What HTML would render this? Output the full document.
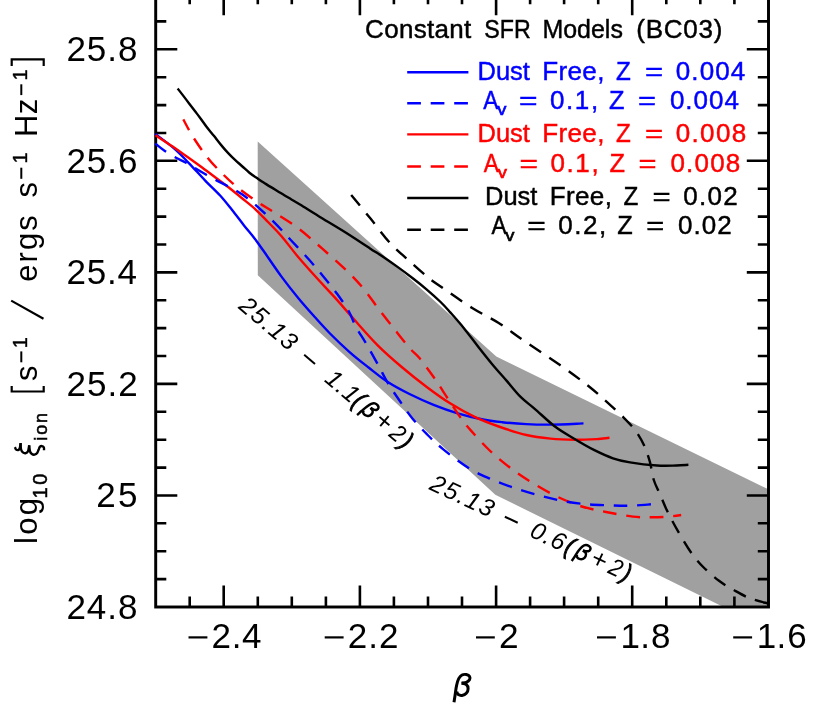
<!DOCTYPE html>
<html><head><meta charset="utf-8"><title>plot</title>
<style>html,body{margin:0;padding:0;background:#fff;}svg{display:block;will-change:transform;}text{font-family:"Liberation Sans",sans-serif;}</style>
</head><body>
<svg width="830" height="708" viewBox="0 0 830 708">
<rect width="830" height="708" fill="#fff"/>
<polygon fill="#a0a0a0" points="257.7,141.6 496.3,356.6 768.4,489.3 768.4,607.0 723.5,607.0 495.3,494.8 257.8,275.3"/>
<g stroke="#000" fill="none">
<rect x="155.7" y="-6.4" width="612.8" height="613.4" stroke-width="2.95"/>
<path d="M189.7,607.0 v-10.6 M189.7,-6.4 v10.6 M223.7,607.0 v-21.6 M223.7,-6.4 v21.6 M257.8,607.0 v-10.6 M257.8,-6.4 v10.6 M291.8,607.0 v-10.6 M291.8,-6.4 v10.6 M325.9,607.0 v-10.6 M325.9,-6.4 v10.6 M359.9,607.0 v-21.6 M359.9,-6.4 v21.6 M393.9,607.0 v-10.6 M393.9,-6.4 v10.6 M428.0,607.0 v-10.6 M428.0,-6.4 v10.6 M462.0,607.0 v-10.6 M462.0,-6.4 v10.6 M496.1,607.0 v-21.6 M496.1,-6.4 v21.6 M530.1,607.0 v-10.6 M530.1,-6.4 v10.6 M564.1,607.0 v-10.6 M564.1,-6.4 v10.6 M598.2,607.0 v-10.6 M598.2,-6.4 v10.6 M632.2,607.0 v-21.6 M632.2,-6.4 v21.6 M666.3,607.0 v-10.6 M666.3,-6.4 v10.6 M700.3,607.0 v-10.6 M700.3,-6.4 v10.6 M734.4,607.0 v-10.6 M734.4,-6.4 v10.6 M155.7,579.1 h10.6 M768.4,579.1 h-10.6 M155.7,551.2 h10.6 M768.4,551.2 h-10.6 M155.7,523.3 h10.6 M768.4,523.3 h-10.6 M155.7,495.5 h21.6 M768.4,495.5 h-21.6 M155.7,467.6 h10.6 M768.4,467.6 h-10.6 M155.7,439.7 h10.6 M768.4,439.7 h-10.6 M155.7,411.8 h10.6 M768.4,411.8 h-10.6 M155.7,383.9 h21.6 M768.4,383.9 h-21.6 M155.7,356.0 h10.6 M768.4,356.0 h-10.6 M155.7,328.1 h10.6 M768.4,328.1 h-10.6 M155.7,300.3 h10.6 M768.4,300.3 h-10.6 M155.7,272.4 h21.6 M768.4,272.4 h-21.6 M155.7,244.5 h10.6 M768.4,244.5 h-10.6 M155.7,216.6 h10.6 M768.4,216.6 h-10.6 M155.7,188.7 h10.6 M768.4,188.7 h-10.6 M155.7,160.8 h21.6 M768.4,160.8 h-21.6 M155.7,133.0 h10.6 M768.4,133.0 h-10.6 M155.7,105.1 h10.6 M768.4,105.1 h-10.6 M155.7,77.2 h10.6 M768.4,77.2 h-10.6 M155.7,49.3 h21.6 M768.4,49.3 h-21.6 M155.7,21.4 h10.6 M768.4,21.4 h-10.6" stroke-width="2.6"/>
</g>
<path d="M155.3,133.9 C158.4,136.3 168.4,143.5 174.0,148.3 C179.6,153.1 183.4,157.4 188.6,162.8 C193.8,168.2 200.2,175.4 205.4,180.8 C210.6,186.2 215.5,190.5 219.9,195.3 C224.3,200.1 227.9,204.8 231.9,209.8 C235.9,214.8 240.2,220.6 244.0,225.4 C247.8,230.2 251.4,234.2 254.8,238.7 C258.2,243.2 260.1,246.0 264.5,252.3 C268.9,258.6 275.7,268.8 281.3,276.4 C286.9,284.0 292.6,291.2 298.2,298.0 C303.8,304.8 309.8,311.5 315.0,317.3 C320.2,323.1 323.8,327.2 329.5,333.0 C335.2,338.8 342.8,346.1 349.3,351.8 C355.8,357.6 362.2,362.5 368.6,367.5 C375.0,372.5 381.0,377.6 387.8,382.0 C394.6,386.4 401.9,390.2 409.5,394.0 C417.1,397.8 425.6,401.6 433.6,404.8 C441.6,408.0 449.7,410.9 457.7,413.3 C465.7,415.7 474.4,417.8 481.8,419.3 C489.2,420.8 494.9,421.4 502.3,422.2 C509.7,423.0 518.4,423.7 526.4,424.1 C534.4,424.5 541.0,424.7 550.5,424.6 C560.0,424.5 578.0,423.6 583.5,423.4" fill="none" stroke="#0000ff" stroke-width="2.4"/>
<path d="M155.6,135.3 C158.4,137.2 167.9,143.4 172.6,146.6 C177.3,149.8 180.1,151.9 183.9,154.5 C187.7,157.1 191.4,159.7 195.2,162.4 C199.0,165.1 202.7,168.0 206.5,170.8 C210.3,173.6 214.0,176.5 217.8,179.3 C221.6,182.1 225.1,184.7 229.1,187.8 C233.1,191.0 237.6,194.6 242.0,198.2 C246.4,201.8 251.1,205.3 255.4,209.3 C259.7,213.3 263.7,217.6 268.0,222.0 C272.3,226.4 276.3,230.2 281.3,236.0 C286.3,241.8 292.2,249.9 298.2,257.0 C304.2,264.1 311.5,272.2 317.5,278.8 C323.5,285.4 328.2,290.1 334.3,296.9 C340.4,303.6 346.7,311.1 354.0,319.3 C361.3,327.5 370.1,337.8 378.2,345.8 C386.2,353.8 394.3,360.7 402.3,367.5 C410.3,374.3 418.4,380.7 426.4,386.7 C434.4,392.7 442.5,398.6 450.5,403.6 C458.5,408.6 466.6,413.1 474.6,416.9 C482.6,420.7 490.1,423.5 498.7,426.5 C507.3,429.5 517.8,433.0 526.4,435.0 C535.0,437.0 542.5,437.8 550.5,438.6 C558.5,439.4 566.6,439.7 574.6,439.8 C582.6,439.9 592.9,439.3 598.7,439.0 C604.5,438.7 607.7,438.0 609.5,437.8" fill="none" stroke="#ff0000" stroke-width="2.4"/>
<path d="M177.7,88.6 C179.1,90.4 183.4,95.9 186.2,99.6 C189.0,103.3 192.4,107.8 194.7,110.8 C197.0,113.8 197.9,114.9 200.0,117.7 C202.1,120.5 204.8,124.4 207.1,127.5 C209.4,130.6 211.8,133.2 214.1,136.1 C216.4,139.0 218.8,142.3 221.2,145.1 C223.5,147.9 225.8,150.6 228.2,153.1 C230.5,155.6 232.9,157.9 235.3,160.1 C237.7,162.3 240.1,164.4 242.4,166.5 C244.8,168.6 247.1,170.8 249.4,172.7 C251.8,174.6 254.1,176.2 256.5,177.8 C258.9,179.4 261.2,181.0 263.6,182.5 C266.0,184.0 268.2,185.5 270.6,186.9 C273.0,188.3 275.4,189.8 277.7,191.2 C280.0,192.6 282.3,194.1 284.7,195.5 C287.1,196.9 289.2,198.2 291.8,199.7 C294.4,201.2 295.5,201.8 300.0,204.6 C304.5,207.3 311.0,211.5 318.7,216.2 C326.4,220.9 337.8,227.6 346.4,233.0 C354.9,238.4 363.7,244.3 370.0,248.4 C376.3,252.5 379.4,254.3 384.1,257.5 C388.8,260.7 393.5,264.0 398.2,267.4 C402.9,270.8 407.7,274.4 412.4,278.0 C417.1,281.6 421.8,285.3 426.5,289.3 C431.2,293.3 436.7,298.2 440.6,302.0 C444.5,305.8 446.1,307.7 450.0,312.1 C453.9,316.5 459.4,322.6 464.1,328.4 C468.8,334.2 473.5,340.7 478.2,346.7 C482.9,352.7 487.7,358.8 492.4,364.4 C497.1,370.0 501.8,375.2 506.5,380.6 C511.2,386.0 515.9,392.2 520.6,396.9 C525.3,401.6 528.9,403.8 534.7,408.8 C540.5,413.8 548.6,421.8 555.3,426.8 C561.9,431.8 568.2,435.1 574.6,439.0 C581.0,442.9 587.5,446.7 593.9,449.9 C600.3,453.1 607.0,456.2 613.0,458.3 C619.0,460.4 622.7,461.2 630.0,462.4 C637.3,463.6 649.3,465.0 657.0,465.5 C664.7,466.0 671.2,465.6 676.4,465.5 C681.6,465.4 686.4,464.9 688.4,464.8" fill="none" stroke="#000" stroke-width="2.4"/>
<path d="M183.3,119.4 C185.0,122.4 189.3,131.1 193.4,137.5 C197.5,143.9 203.0,152.0 207.8,158.0 C212.6,164.0 217.5,168.8 222.3,173.6 C227.1,178.4 231.1,182.2 236.7,186.8 C242.3,191.4 249.8,196.8 256.0,201.0 C262.2,205.2 267.0,207.8 274.0,212.3 C281.0,216.8 290.1,222.1 298.2,228.2 C306.2,234.3 314.3,241.7 322.3,248.7 C330.3,255.7 339.6,263.8 346.4,270.4 C353.2,277.0 358.1,282.2 363.3,288.4 C368.5,294.6 372.5,300.9 377.7,307.7 C382.9,314.5 389.2,322.6 394.6,329.4 C400.0,336.2 406.1,344.0 410.2,348.7 C414.3,353.4 415.3,353.1 419.2,357.8 C423.1,362.5 428.8,370.2 433.6,377.0 C438.4,383.8 443.6,392.2 448.0,398.8 C452.4,405.4 456.2,411.6 460.0,416.9 C463.8,422.2 466.0,424.9 471.0,430.6 C476.0,436.3 483.4,444.6 490.2,451.0 C497.0,457.4 504.8,463.8 512.0,469.2 C519.2,474.6 526.0,479.0 533.6,483.6 C541.2,488.2 549.7,493.1 557.7,496.9 C565.7,500.7 573.8,504.0 581.8,506.5 C589.8,509.0 597.5,510.3 606.0,512.0 C614.5,513.7 625.3,515.7 633.0,516.6 C640.7,517.5 646.3,517.3 652.3,517.3 C658.3,517.3 664.4,517.0 669.2,516.6 C674.0,516.2 679.2,515.3 681.2,515.0" fill="none" stroke="#ff0000" stroke-width="2.4" stroke-dasharray="13.7,9.8" stroke-dashoffset="1.5"/>
<path d="M155.3,143.5 C156.8,144.7 161.0,148.3 164.5,150.7 C168.0,153.1 172.9,156.0 176.5,158.0 C180.1,160.0 182.4,160.8 186.0,162.8 C189.6,164.8 193.8,167.4 198.2,170.0 C202.6,172.6 207.9,175.8 212.7,178.4 C217.5,181.0 222.2,183.1 227.0,185.7 C231.8,188.3 236.8,190.7 241.6,194.0 C246.4,197.3 250.6,200.6 256.0,205.3 C261.4,210.0 268.2,216.4 274.0,222.2 C279.8,228.0 285.4,234.2 291.0,240.2 C296.6,246.2 302.6,252.5 307.8,258.3 C313.0,264.1 317.5,269.4 322.3,275.2 C327.1,281.0 332.3,287.3 336.7,293.3 C341.1,299.3 345.6,305.7 348.8,311.3 C352.0,316.9 353.1,321.6 356.0,327.0 C358.9,332.4 362.3,337.1 366.0,343.4 C369.7,349.7 374.6,358.4 378.2,365.0 C381.8,371.6 384.2,377.0 387.8,383.0 C391.4,389.0 396.0,395.4 400.0,401.2 C404.0,407.0 407.6,412.6 412.0,418.0 C416.4,423.4 421.2,428.5 426.4,433.7 C431.6,438.9 436.3,443.7 443.3,449.4 C450.3,455.1 460.8,463.1 468.6,468.0 C476.4,472.9 483.0,475.6 490.2,478.8 C497.4,482.0 504.4,484.6 512.0,487.2 C519.6,489.8 528.0,492.3 536.0,494.5 C544.0,496.7 552.0,498.9 560.0,500.5 C568.0,502.1 576.2,503.2 584.2,504.0 C592.2,504.8 601.0,505.0 608.3,505.3 C615.6,505.6 621.7,505.9 628.2,505.8 C634.7,505.7 642.3,505.0 647.5,504.6 C652.7,504.2 657.5,503.6 659.5,503.4" fill="none" stroke="#0000ff" stroke-width="2.4" stroke-dasharray="13.7,9.8" stroke-dashoffset="0.0"/>
<path d="M351.2,195.0 C354.4,198.9 364.1,210.7 370.5,218.6 C376.9,226.5 383.4,235.7 389.8,242.7 C396.2,249.7 402.6,254.9 409.0,260.7 C415.4,266.5 422.7,273.1 428.3,277.6 C433.9,282.2 435.5,282.9 442.8,288.0 C450.1,293.1 462.9,302.2 472.2,308.0 C481.5,313.8 490.3,317.7 498.7,323.0 C507.1,328.3 512.6,333.0 522.8,340.0 C533.0,347.0 549.1,357.3 560.0,365.0 C570.9,372.7 580.6,379.9 588.4,386.0 C596.1,392.1 600.7,396.5 606.5,401.7 C612.3,406.9 618.6,412.5 623.4,417.3 C628.2,422.1 632.0,426.0 635.4,430.6 C638.8,435.2 641.5,439.8 643.9,445.0 C646.3,450.2 648.2,456.1 649.9,461.9 C651.5,467.7 652.1,474.7 653.8,480.0 C655.4,485.3 657.8,489.2 659.8,493.8 C661.8,498.4 663.6,503.1 665.7,507.7 C667.8,512.3 670.0,516.6 672.6,521.5 C675.2,526.4 678.4,532.0 681.5,537.3 C684.6,542.5 687.8,548.0 691.4,553.0 C695.0,558.0 698.6,562.4 703.2,567.0 C707.8,571.6 713.7,576.8 719.0,580.8 C724.3,584.8 729.6,587.7 734.9,590.7 C740.2,593.7 745.1,596.5 750.7,598.6 C756.3,600.7 765.5,602.7 768.5,603.5" fill="none" stroke="#000" stroke-width="2.4" stroke-dasharray="13.7,9.8" stroke-dashoffset="0.0"/>
<path d="M188.5,637.4 H207.4" stroke="#000" stroke-width="2.2" fill="none"/>
<text x="211.58" y="647.80" font-size="35.0" fill="#000" letter-spacing="0.61">2.4</text>
<path d="M324.7,637.4 H343.6" stroke="#000" stroke-width="2.2" fill="none"/>
<text x="347.75" y="647.80" font-size="35.0" fill="#000" letter-spacing="0.98">2.2</text>
<path d="M476.0,637.4 H494.8" stroke="#000" stroke-width="2.2" fill="none"/>
<text transform="translate(499.03,647.80) scale(1.0088,1)" font-size="35.0" fill="#000">2</text>
<path d="M597.0,637.4 H615.9" stroke="#000" stroke-width="2.2" fill="none"/>
<text x="620.61" y="647.80" font-size="35.0" fill="#000">1</text>
<text x="640.35" y="647.80" font-size="35.0" fill="#000" letter-spacing="1.01">.8</text>
<path d="M733.2,637.4 H752.1" stroke="#000" stroke-width="2.2" fill="none"/>
<text x="756.77" y="647.80" font-size="35.0" fill="#000">1</text>
<text x="776.51" y="647.80" font-size="35.0" fill="#000" letter-spacing="1.04">.6</text>
<text x="66.45" y="61.00" font-size="35.0" fill="#000" letter-spacing="0.95">25.8</text>
<text x="66.45" y="172.54" font-size="35.0" fill="#000" letter-spacing="0.96">25.6</text>
<text x="66.45" y="284.08" font-size="35.0" fill="#000" letter-spacing="0.78">25.4</text>
<text x="66.45" y="395.62" font-size="35.0" fill="#000" letter-spacing="1.03">25.2</text>
<text x="96.25" y="507.16" font-size="35.0" fill="#000" letter-spacing="2.19">25</text>
<text x="66.45" y="618.70" font-size="35.0" fill="#000" letter-spacing="0.95">24.8</text>
<g transform="translate(452.10,696.50) scale(1.000)" fill="none" stroke="#000" stroke-width="3.00" stroke-linecap="butt" stroke-linejoin="round"><path d="M1.9,5.7 C2.1,4.3 2.8,0.0 3.2,-2.8 C3.6,-5.6 3.9,-8.7 4.5,-11.2 C5.1,-13.7 5.7,-16.2 6.6,-17.9 C7.5,-19.6 8.6,-20.8 9.9,-21.5 C11.2,-22.2 12.9,-22.2 14.2,-22.0 C15.5,-21.8 17.0,-21.0 17.5,-20.1 C18.0,-19.2 17.9,-17.7 17.4,-16.7 C16.8,-15.7 15.5,-14.8 14.2,-14.2 C12.9,-13.6 10.3,-13.5 9.5,-13.3"/><path d="M9.5,-13.3 C10.3,-13.1 13.1,-12.9 14.2,-12.0 C15.3,-11.1 16.0,-9.3 16.0,-7.8 C16.0,-6.3 15.2,-4.3 14.2,-3.2 C13.2,-2.1 11.2,-1.3 9.9,-1.1 C8.6,-0.9 7.1,-1.3 6.2,-1.9 C5.3,-2.5 5.0,-4.1 4.7,-4.5"/></g>
<g transform="translate(37.0,0) rotate(-90)">
<text x="-544.08" y="0.00" font-size="31.0" letter-spacing="2.35">log</text>
<text x="-498.52" y="9.80" font-size="20.0" letter-spacing="2.56" stroke="#000" stroke-width="0.5">10</text>
<text x="-440.71" y="9.60" font-size="18.0" letter-spacing="1.88" stroke="#000" stroke-width="0.5">ion</text>
<path d="M-386.0,-25.3 L-391.5,-25.3 L-391.5,6.7 L-386.0,6.7" fill="none" stroke="#000" stroke-width="2.2"/>
<text x="-381.07" y="0.00" font-size="31.0" letter-spacing="0.00">s</text>
<path d="M-362.3,-15.7 L-351.4,-15.7" fill="none" stroke="#000" stroke-width="2.0"/>
<text x="-348.30" y="-10.50" font-size="20.0" stroke="#000" stroke-width="0.4">1</text>
<path d="M-318.8,6.5 L-300.6,-25.8" fill="none" stroke="#000" stroke-width="2.2"/>
<text x="-281.80" y="0.00" font-size="31.0" letter-spacing="2.07">ergs</text>
<text x="-197.47" y="0.00" font-size="31.0" letter-spacing="0.00">s</text>
<path d="M-178.8,-15.7 L-167.7,-15.7" fill="none" stroke="#000" stroke-width="2.0"/>
<text x="-163.50" y="-10.50" font-size="20.0" stroke="#000" stroke-width="0.4">1</text>
<text x="-137.04" y="0.00" font-size="31.0" letter-spacing="0.50">Hz</text>
<path d="M-95.1,-15.7 L-84.3,-15.7" fill="none" stroke="#000" stroke-width="2.0"/>
<text x="-80.50" y="-10.50" font-size="20.0" stroke="#000" stroke-width="0.4">1</text>
<path d="M-66.0,-25.3 L-59.4,-25.3 L-59.4,6.7 L-66.0,6.7" fill="none" stroke="#000" stroke-width="2.2"/>
</g>
<g fill="none" stroke="#000" stroke-width="2.4" stroke-linecap="butt" stroke-linejoin="round"><path d="M14.9,447.1 C15.1,447.5 15.4,448.8 15.9,449.3 C16.5,449.8 17.5,450.2 18.1,450.1 C18.7,449.9 19.3,449.6 19.7,448.5 C20.1,447.4 20.5,444.1 20.6,443.2"/><path d="M20.6,443.2 C20.7,444.2 20.6,447.8 21.0,449.3 C21.4,450.8 22.1,451.8 22.9,452.4 C23.6,453.0 24.7,453.3 25.5,453.2 C26.3,453.1 27.3,452.9 27.9,451.6 C28.5,450.3 29.0,446.4 29.2,445.3"/><path d="M29.2,445.3 C29.3,446.3 29.6,449.9 30.0,451.4 C30.4,452.8 31.1,453.5 31.9,454.0 C32.6,454.5 33.6,454.8 34.5,454.6 C35.4,454.4 36.5,453.9 37.2,453.0 C37.9,452.1 38.3,450.3 38.8,449.3 C39.2,448.3 39.3,447.4 39.8,446.9 C40.3,446.4 41.2,446.0 41.9,446.1 C42.6,446.2 43.4,446.7 43.8,447.4 C44.2,448.1 44.0,449.8 44.0,450.3"/></g>
<text x="365.07" y="38.00" font-size="26.0" fill="#000" letter-spacing="0.29" stroke="#000" stroke-width="0.45">Constant</text>
<text transform="translate(484.33,38.00) scale(0.8935,1)" font-size="26.0" fill="#000" stroke="#000" stroke-width="0.45">SFR</text>
<text transform="translate(542.45,38.00) scale(0.9598,1)" font-size="26.0" fill="#000" stroke="#000" stroke-width="0.45">Models</text>
<text x="636.29" y="38.00" font-size="26.0" fill="#000" letter-spacing="0.73" stroke="#000" stroke-width="0.45">(BC03)</text>
<path d="M407.2,72.3 H468.4" stroke="#0000ff" stroke-width="2.4" fill="none"/>
<path d="M407.2,103.2 H468.4" stroke="#0000ff" stroke-width="2.4" fill="none" stroke-dasharray="13.7,9.8"/>
<path d="M407.2,134.4 H468.4" stroke="#ff0000" stroke-width="2.4" fill="none"/>
<path d="M407.2,166.5 H468.4" stroke="#ff0000" stroke-width="2.4" fill="none" stroke-dasharray="13.7,9.8"/>
<path d="M407.2,198.0 H468.4" stroke="#000" stroke-width="2.4" fill="none"/>
<path d="M407.2,229.8 H468.4" stroke="#000" stroke-width="2.4" fill="none" stroke-dasharray="13.7,9.8"/>
<text transform="translate(477.51,79.50) scale(0.9814,1)" font-size="26.0" fill="#0000ff" stroke="#0000ff" stroke-width="0.45">Dust</text>
<text x="542.27" y="79.50" font-size="26.0" fill="#0000ff" letter-spacing="0.35" stroke="#0000ff" stroke-width="0.45">Free,</text>
<text transform="translate(615.92,79.50) scale(0.9335,1)" font-size="26.0" fill="#0000ff" stroke="#0000ff" stroke-width="0.45">Z</text>
<text transform="translate(644.88,79.50) scale(1.1950,1)" font-size="26.0" fill="#0000ff" stroke="#0000ff" stroke-width="0.45">=</text>
<text x="675.79" y="79.50" font-size="26.0" fill="#0000ff" letter-spacing="1.10" stroke="#0000ff" stroke-width="0.45">0.004</text>
<text transform="translate(483.25,108.50) scale(0.8702,1)" font-size="26.0" fill="#0000ff" stroke="#0000ff" stroke-width="0.45">A</text>
<text transform="translate(497.13,115.00) scale(1.0760,1)" font-size="17.0" fill="#0000ff" stroke="#0000ff" stroke-width="0.7">v</text>
<text transform="translate(519.05,108.50) scale(1.2187,1)" font-size="26.0" fill="#0000ff" stroke="#0000ff" stroke-width="0.45">=</text>
<text x="549.99" y="108.50" font-size="26.0" fill="#0000ff" letter-spacing="1.59" stroke="#0000ff" stroke-width="0.45">0.1,</text>
<text transform="translate(608.99,108.50) scale(0.9756,1)" font-size="26.0" fill="#0000ff" stroke="#0000ff" stroke-width="0.45">Z</text>
<text transform="translate(637.99,108.50) scale(1.1871,1)" font-size="26.0" fill="#0000ff" stroke="#0000ff" stroke-width="0.45">=</text>
<text x="669.89" y="108.50" font-size="26.0" fill="#0000ff" letter-spacing="1.03" stroke="#0000ff" stroke-width="0.45">0.004</text>
<text transform="translate(477.51,141.80) scale(0.9814,1)" font-size="26.0" fill="#ff0000" stroke="#ff0000" stroke-width="0.45">Dust</text>
<text x="542.27" y="141.80" font-size="26.0" fill="#ff0000" letter-spacing="0.35" stroke="#ff0000" stroke-width="0.45">Free,</text>
<text transform="translate(615.92,141.80) scale(0.9335,1)" font-size="26.0" fill="#ff0000" stroke="#ff0000" stroke-width="0.45">Z</text>
<text transform="translate(644.88,141.80) scale(1.1950,1)" font-size="26.0" fill="#ff0000" stroke="#ff0000" stroke-width="0.45">=</text>
<text x="675.79" y="141.80" font-size="26.0" fill="#ff0000" letter-spacing="1.32" stroke="#ff0000" stroke-width="0.45">0.008</text>
<text transform="translate(483.75,171.80) scale(0.8702,1)" font-size="26.0" fill="#ff0000" stroke="#ff0000" stroke-width="0.45">A</text>
<text transform="translate(497.63,178.30) scale(1.0760,1)" font-size="17.0" fill="#ff0000" stroke="#ff0000" stroke-width="0.7">v</text>
<text transform="translate(519.55,171.80) scale(1.2187,1)" font-size="26.0" fill="#ff0000" stroke="#ff0000" stroke-width="0.45">=</text>
<text x="550.49" y="171.80" font-size="26.0" fill="#ff0000" letter-spacing="1.59" stroke="#ff0000" stroke-width="0.45">0.1,</text>
<text transform="translate(609.49,171.80) scale(0.9756,1)" font-size="26.0" fill="#ff0000" stroke="#ff0000" stroke-width="0.45">Z</text>
<text transform="translate(638.49,171.80) scale(1.1871,1)" font-size="26.0" fill="#ff0000" stroke="#ff0000" stroke-width="0.45">=</text>
<text x="670.39" y="171.80" font-size="26.0" fill="#ff0000" letter-spacing="1.22" stroke="#ff0000" stroke-width="0.45">0.008</text>
<text transform="translate(485.01,204.60) scale(0.9814,1)" font-size="26.0" fill="#000" stroke="#000" stroke-width="0.45">Dust</text>
<text x="549.77" y="204.60" font-size="26.0" fill="#000" letter-spacing="0.35" stroke="#000" stroke-width="0.45">Free,</text>
<text transform="translate(623.42,204.60) scale(0.9335,1)" font-size="26.0" fill="#000" stroke="#000" stroke-width="0.45">Z</text>
<text transform="translate(652.38,204.60) scale(1.1950,1)" font-size="26.0" fill="#000" stroke="#000" stroke-width="0.45">=</text>
<text x="683.29" y="204.60" font-size="26.0" fill="#000" letter-spacing="1.24" stroke="#000" stroke-width="0.45">0.02</text>
<text transform="translate(491.45,234.30) scale(0.8702,1)" font-size="26.0" fill="#000" stroke="#000" stroke-width="0.45">A</text>
<text transform="translate(505.33,240.80) scale(1.0760,1)" font-size="17.0" fill="#000" stroke="#000" stroke-width="0.7">v</text>
<text transform="translate(527.25,234.30) scale(1.2187,1)" font-size="26.0" fill="#000" stroke="#000" stroke-width="0.45">=</text>
<text x="558.19" y="234.30" font-size="26.0" fill="#000" letter-spacing="1.59" stroke="#000" stroke-width="0.45">0.2,</text>
<text transform="translate(617.19,234.30) scale(0.9756,1)" font-size="26.0" fill="#000" stroke="#000" stroke-width="0.45">Z</text>
<text transform="translate(646.19,234.30) scale(1.1871,1)" font-size="26.0" fill="#000" stroke="#000" stroke-width="0.45">=</text>
<text x="678.09" y="234.30" font-size="26.0" fill="#000" letter-spacing="1.00" stroke="#000" stroke-width="0.45">0.02</text>
<g transform="translate(237.4,307.6) rotate(40.4)">
<text x="0.15" y="0.00" font-size="24.5" fill="#000" letter-spacing="1.57" font-style="italic">25.13</text>
<path d="M81.4,-7.4 H95.6" stroke="#000" stroke-width="2.0" fill="none"/>
<text x="113.00" y="0" font-size="24.5" font-style="italic" letter-spacing="0.98">1.1</text>
<text transform="translate(149.26,0.00) scale(0.8163,1)" font-size="24.5" fill="#000" font-style="italic" stroke="#000" stroke-width="1.1">(</text>
<g transform="translate(159.30,0.00) scale(0.750)" fill="none" stroke="#000" stroke-width="3.33" stroke-linecap="butt" stroke-linejoin="round"><path d="M1.9,5.7 C2.1,4.3 2.8,0.0 3.2,-2.8 C3.6,-5.6 3.9,-8.7 4.5,-11.2 C5.1,-13.7 5.7,-16.2 6.6,-17.9 C7.5,-19.6 8.6,-20.8 9.9,-21.5 C11.2,-22.2 12.9,-22.2 14.2,-22.0 C15.5,-21.8 17.0,-21.0 17.5,-20.1 C18.0,-19.2 17.9,-17.7 17.4,-16.7 C16.8,-15.7 15.5,-14.8 14.2,-14.2 C12.9,-13.6 10.3,-13.5 9.5,-13.3"/><path d="M9.5,-13.3 C10.3,-13.1 13.1,-12.9 14.2,-12.0 C15.3,-11.1 16.0,-9.3 16.0,-7.8 C16.0,-6.3 15.2,-4.3 14.2,-3.2 C13.2,-2.1 11.2,-1.3 9.9,-1.1 C8.6,-0.9 7.1,-1.3 6.2,-1.9 C5.3,-2.5 5.0,-4.1 4.7,-4.5"/></g>
<text transform="translate(177.31,0.00) scale(1.0094,1)" font-size="26.5" fill="#000" font-style="italic">+</text>
<text transform="translate(197.33,0.00) scale(0.9103,1)" font-size="24.5" fill="#000" font-style="italic">2</text>
<text transform="translate(212.54,0.00) scale(0.8163,1)" font-size="24.5" fill="#000" font-style="italic" stroke="#000" stroke-width="1.1">)</text>
</g>
<g transform="translate(428.0,488.9) rotate(25.1)">
<text x="0.15" y="0.00" font-size="24.5" fill="#000" letter-spacing="1.57" font-style="italic">25.13</text>
<path d="M81.4,-7.4 H95.6" stroke="#000" stroke-width="2.0" fill="none"/>
<text x="110.85" y="0.00" font-size="24.5" fill="#000" letter-spacing="1.05" font-style="italic">0.6</text>
<text transform="translate(149.26,0.00) scale(0.8163,1)" font-size="24.5" fill="#000" font-style="italic" stroke="#000" stroke-width="1.1">(</text>
<g transform="translate(159.30,0.00) scale(0.750)" fill="none" stroke="#000" stroke-width="3.33" stroke-linecap="butt" stroke-linejoin="round"><path d="M1.9,5.7 C2.1,4.3 2.8,0.0 3.2,-2.8 C3.6,-5.6 3.9,-8.7 4.5,-11.2 C5.1,-13.7 5.7,-16.2 6.6,-17.9 C7.5,-19.6 8.6,-20.8 9.9,-21.5 C11.2,-22.2 12.9,-22.2 14.2,-22.0 C15.5,-21.8 17.0,-21.0 17.5,-20.1 C18.0,-19.2 17.9,-17.7 17.4,-16.7 C16.8,-15.7 15.5,-14.8 14.2,-14.2 C12.9,-13.6 10.3,-13.5 9.5,-13.3"/><path d="M9.5,-13.3 C10.3,-13.1 13.1,-12.9 14.2,-12.0 C15.3,-11.1 16.0,-9.3 16.0,-7.8 C16.0,-6.3 15.2,-4.3 14.2,-3.2 C13.2,-2.1 11.2,-1.3 9.9,-1.1 C8.6,-0.9 7.1,-1.3 6.2,-1.9 C5.3,-2.5 5.0,-4.1 4.7,-4.5"/></g>
<text transform="translate(177.31,0.00) scale(1.0094,1)" font-size="26.5" fill="#000" font-style="italic">+</text>
<text transform="translate(197.33,0.00) scale(0.9103,1)" font-size="24.5" fill="#000" font-style="italic">2</text>
<text transform="translate(212.54,0.00) scale(0.8163,1)" font-size="24.5" fill="#000" font-style="italic" stroke="#000" stroke-width="1.1">)</text>
</g>
</svg></body></html>
